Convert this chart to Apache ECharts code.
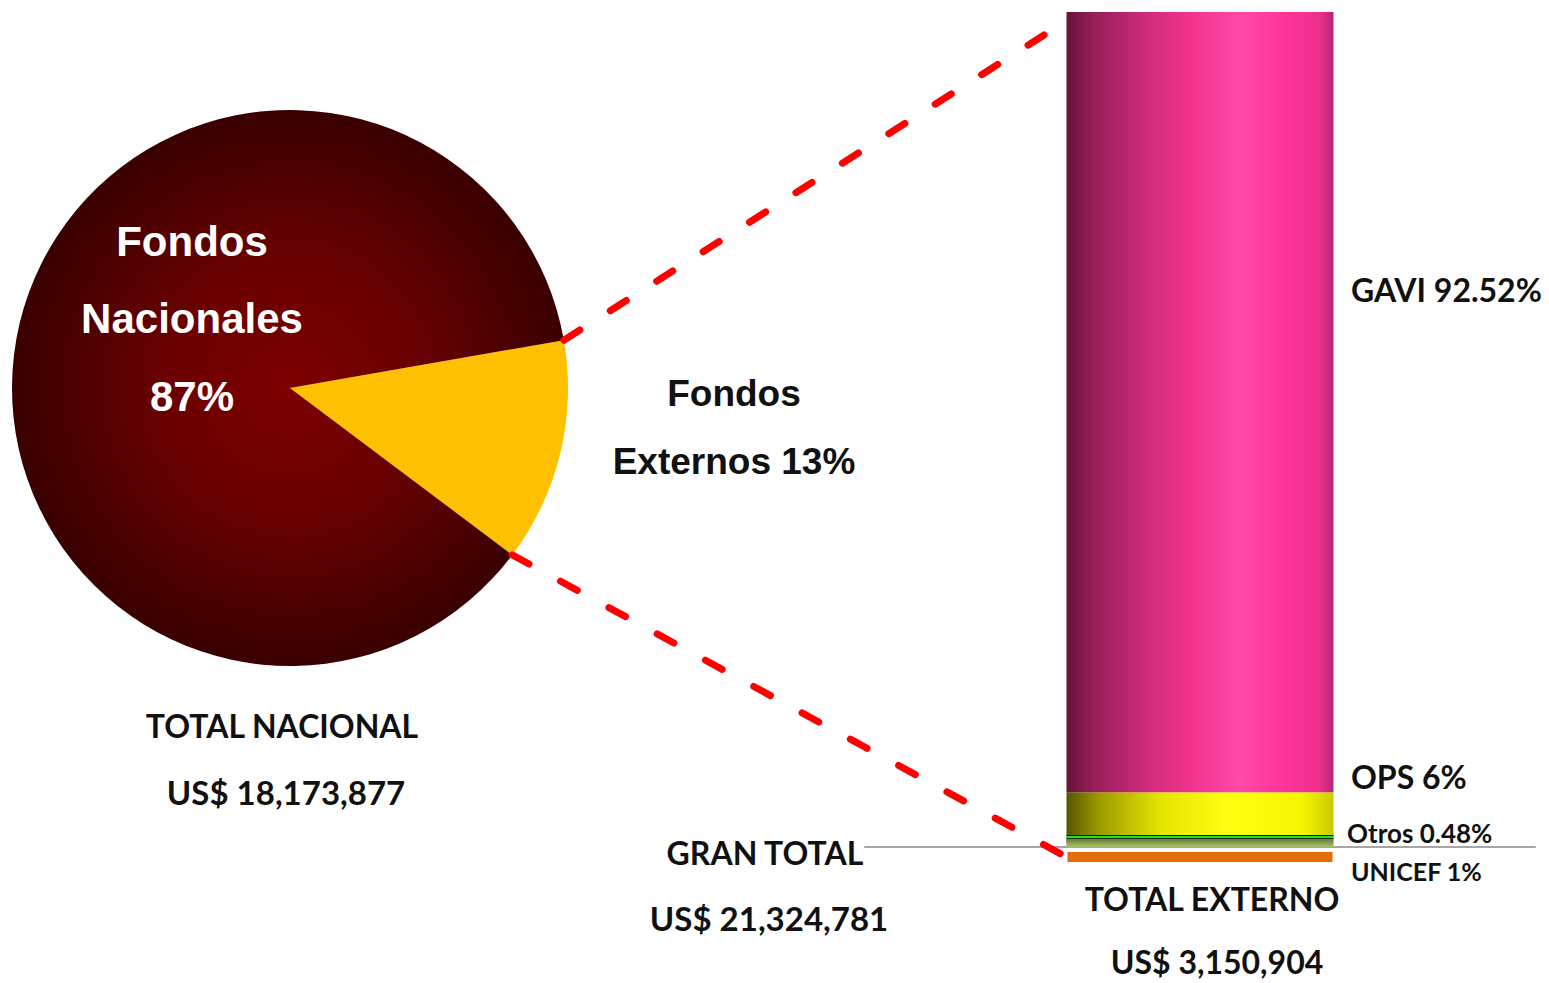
<!DOCTYPE html>
<html>
<head>
<meta charset="utf-8">
<title>Fondos nacionales y externos</title>
<script src="https://cdn.jsdelivr.net/npm/echarts@6/dist/echarts.min.js"></script>
<style>
html, body { margin: 0; padding: 0; background: #fff; }
#chart { width: 1549px; height: 983px; }
</style>
</head>
<body>
<div id="chart"></div>
<script>
// pie: origin of the funds (%)
const fuentes = ['Fondos Externos', 'Fondos Nacionales'];
const fuentesPct = [13, 87];

// bar: split of the external funds, stacked bottom to top (%)
const externos = ['Otros', 'OPS', 'GAVI'];
const externosPct = [0.48, 6, 92.52];
const unicef = ['UNICEF'];
const unicefPct = [1];

// totals shown as text
const totalNacional = ['TOTAL NACIONAL', 'US$ 18,173,877'];
const totalExterno = ['TOTAL EXTERNO', 'US$ 3,150,904'];
const granTotal = ['GRAN TOTAL', 'US$ 21,324,781'];

const pieCenter = [290, 388];
const pieRadius = 278;
const pieStart = 9.9;
const barW = 267;

const chart = echarts.init(document.getElementById('chart'), null, { renderer: 'svg' });

const calibri = 'Lato, "Open Sans", sans-serif';
const arial = '"Liberation Sans", Arial, sans-serif';

function txt (x, y, text, size, fam, fill, align) {
  return {
    type: 'text',
    x: x,
    y: y,
    z: 100,
    silent: true,
    style: {
      text: text,
      font: 'bold ' + size + 'px ' + fam,
      fill: fill || '#111',
      align: align || 'center',
      textAlign: align || 'center',
      verticalAlign: 'middle',
      textVerticalAlign: 'middle'
    }
  }
}

const sumExt = externosPct.reduce((a, b) => a + b, 0);

const hGrad = (stops) => ({
  type: 'linear', x: 0, y: 0, x2: 1, y2: 0,
  colorStops: stops.map(s => ({ offset: s[0], color: s[1] }))
});

const option = {
  animation: false,
  grid: [
    { left: 865, right: 14, top: 12, bottom: 983 - 847 },
    { left: 865, right: 14, top: 852, height: 10 }
  ],
  xAxis: [
    {
      type: 'category',
      gridIndex: 0,
      data: ['Externo'],
      axisLine: { lineStyle: { color: '#a6a6a6', width: 2 } },
      axisTick: { show: false },
      axisLabel: { show: false }
    },
    {
      type: 'category',
      gridIndex: 1,
      data: ['Externo'],
      show: false
    }
  ],
  yAxis: [
    { type: 'value', gridIndex: 0, min: 0, max: sumExt, show: false, splitLine: { show: false } },
    { type: 'value', gridIndex: 1, min: 0, max: unicefPct[0], show: false, splitLine: { show: false } }
  ],
  series: [
    {
      type: 'pie',
      center: pieCenter,
      radius: pieRadius,
      startAngle: pieStart,
      clockwise: true,
      silent: true,
      label: { show: false },
      labelLine: { show: false },
      emphasis: { disabled: true },
      data: fuentes.map((n, i) => ({
        name: n,
        value: fuentesPct[i],
        itemStyle: i === 0
          ? { color: '#ffc000' }
          : {
              color: {
                type: 'radial', x: pieCenter[0], y: pieCenter[1], r: pieRadius, global: true,
                colorStops: [
                  { offset: 0, color: '#7e0000' },
                  { offset: 0.45, color: '#6a0000' },
                  { offset: 1, color: '#3a0000' }
                ]
              }
            }
      }))
    },
    {
      name: externos[0],
      type: 'bar',
      stack: 'ext',
      barWidth: barW,
      barMinHeight: 12,
      z: 3,
      silent: true,
      data: [externosPct[0]],
      itemStyle: {
        color: {
          type: 'linear', x: 0, y: 0, x2: 0, y2: 1,
          colorStops: [
            { offset: 0, color: '#151515' },
            { offset: 0.06, color: '#151515' },
            { offset: 0.1, color: '#22e022' },
            { offset: 0.24, color: '#22e022' },
            { offset: 0.3, color: '#151515' },
            { offset: 0.36, color: '#6f7f3a' },
            { offset: 1, color: '#a8c468' }
          ]
        }
      }
    },
    {
      name: externos[1],
      type: 'bar',
      stack: 'ext',
      barWidth: barW,
      silent: true,
      data: [externosPct[1]],
      itemStyle: {
        color: hGrad([[0, '#555500'], [0.12, '#9a9a00'], [0.35, '#e4e400'], [0.6, '#ffff12'], [0.88, '#f6f600'], [1, '#caca00']])
      }
    },
    {
      name: externos[2],
      type: 'bar',
      stack: 'ext',
      barWidth: barW,
      silent: true,
      data: [externosPct[2]],
      itemStyle: {
        color: hGrad([[0, '#64143c'], [0.1, '#961e58'], [0.3, '#cf2b7c'], [0.48, '#f3348e'], [0.65, '#ff4aa8'], [0.82, '#ff3399'], [0.95, '#ec2f8c'], [1, '#b52570']])
      }
    },
    {
      name: unicef[0],
      type: 'bar',
      xAxisIndex: 1,
      yAxisIndex: 1,
      barWidth: barW - 2,
      silent: true,
      data: unicefPct,
      itemStyle: { color: '#e46c0a' }
    }
  ]
};

chart.setOption(option);

// dashed connectors from the small slice to the bar
const rad = Math.PI / 180;
const a1 = pieStart * rad;
const a2 = (pieStart - 360 * fuentesPct[0] / 100) * rad;
const p1 = [pieCenter[0] + pieRadius * Math.cos(a1), pieCenter[1] - pieRadius * Math.sin(a1)];
const p2 = [pieCenter[0] + pieRadius * Math.cos(a2), pieCenter[1] - pieRadius * Math.sin(a2)];
const barTopPt = chart.convertToPixel({ xAxisIndex: 0, yAxisIndex: 0 }, [0, sumExt]);
const barBotPt = chart.convertToPixel({ xAxisIndex: 1, yAxisIndex: 1 }, [0, unicefPct[0] / 2]);
const dash = { stroke: '#ff0000', lineWidth: 7, lineDash: [19, 36], lineCap: 'round' };

chart.setOption({
  graphic: [
    { type: 'line', z: 50, silent: true, shape: { x1: p1[0], y1: p1[1], x2: barTopPt[0] - barW / 2 - 2, y2: barTopPt[1] + 10 }, style: dash },
    { type: 'line', z: 50, silent: true, shape: { x1: p2[0], y1: p2[1], x2: barBotPt[0] - barW / 2, y2: barBotPt[1] }, style: dash },

    txt(192, 241, 'Fondos', 42, arial, '#fff'),
    txt(192, 318, 'Nacionales', 42, arial, '#fff'),
    txt(192, 396, fuentesPct[1] + '%', 42, arial, '#fff'),
    txt(734, 393, 'Fondos', 37, arial),
    txt(734, 461, 'Externos ' + fuentesPct[0] + '%', 37, arial),

    txt(1351, 289, externos[2] + ' ' + externosPct[2] + '%', 32, calibri, null, 'left'),
    txt(1351, 776, externos[1] + ' ' + externosPct[1] + '%', 32, calibri, null, 'left'),
    txt(1347, 833, externos[0] + ' ' + externosPct[0] + '%', 26, calibri, null, 'left'),
    txt(1351, 871, unicef[0] + ' ' + unicefPct[0] + '%', 25, calibri, null, 'left'),

    txt(282, 725, totalNacional[0], 32, calibri),
    txt(286, 792, totalNacional[1], 33, calibri),
    txt(1212, 898, totalExterno[0], 32, calibri),
    txt(1217, 961, totalExterno[1], 32, calibri),
    txt(765, 852, granTotal[0], 32, calibri),
    txt(769, 918, granTotal[1], 33, calibri)
  ]
});
</script>
</body>
</html>
